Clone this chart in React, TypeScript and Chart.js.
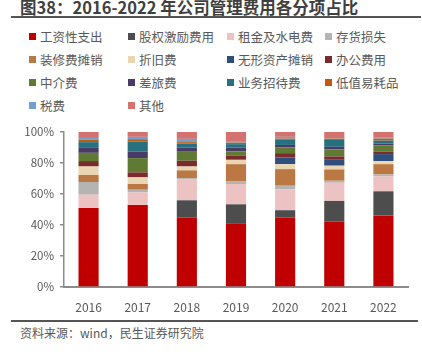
import React, { useEffect, useRef } from "react";
import { Chart, registerables } from "chart.js";

Chart.register(...registerables);

const years = ["2016", "2017", "2018", "2019", "2020", "2021", "2022"];
const yTicks = [0, 20, 40, 60, 80, 100];

const seriesNames = [
  "工资性支出", "股权激励费用", "租金及水电费", "存货损失",
  "装修费摊销", "折旧费", "无形资产摊销", "办公费用",
  "中介费", "差旅费", "业务招待费", "低值易耗品",
  "税费", "其他",
];

const salary = [51.0, 52.9, 44.8, 41.1, 44.8, 42.2, 46.0];
const equityIncentive = [0, 0, 11.1, 12.2, 4.7, 13.3, 15.7];
const rentUtilities = [8.5, 8.1, 13.7, 13.1, 13.5, 11.7, 9.6];
const inventoryLoss = [8.2, 1.7, 0.6, 1.9, 2.3, 1.3, 1.3];
const decoration = [4.5, 3.7, 5.0, 10.9, 10.7, 7.3, 6.6];
const depreciation = [5.5, 4.3, 2.5, 2.8, 3.2, 2.4, 2.0];
const intangible = [0, 0, 0, 0, 4.3, 4.2, 4.5];
const office = [3.5, 3.2, 3.7, 2.8, 2.8, 1.8, 1.5];
const agency = [5.3, 9.2, 5.8, 2.6, 3.8, 4.5, 4.2];
const travel = [3.2, 4.3, 2.7, 2.5, 1.5, 1.7, 1.1];
const entertainment = [3.7, 6.4, 2.6, 2.2, 3.3, 4.9, 1.9];
const consumables = [1.7, 1.5, 0.9, 1.0, 0.8, 0.4, 1.3];
const taxes = [1.0, 1.5, 2.1, 0.5, 1.1, 0.2, 0.5];
const others = [3.9, 3.2, 4.5, 6.4, 3.2, 4.1, 3.8];

const seriesData = [
  salary, equityIncentive, rentUtilities, inventoryLoss,
  decoration, depreciation, intangible, office,
  agency, travel, entertainment, consumables,
  taxes, others,
];

const colors = [
  "#C00000", "#4D4D4D", "#EDC2C3", "#B4B4B4",
  "#BC7843", "#EBD6B4", "#2E4F7C", "#7B2B2C",
  "#5F7B33", "#4A3A66", "#27707F", "#C25A0C",
  "#70A0D0", "#D3726F",
];

const FONT = "'Noto Sans CJK SC', 'Noto Sans', sans-serif";

export default function App() {
  const ref = useRef<HTMLCanvasElement | null>(null);

  useEffect(() => {
    if (!ref.current) return;
    const chart = new Chart(ref.current, {
      type: "bar",
      data: {
        labels: years,
        datasets: seriesNames.map((name, i) => ({
          label: name,
          data: seriesData[i],
          backgroundColor: colors[i],
          borderWidth: 0,
          barPercentage: 0.82,
          categoryPercentage: 0.5,
        })),
      },
      options: {
        animation: false,
        responsive: false,
        maintainAspectRatio: false,
        layout: { padding: { top: 6, right: 14, left: 0, bottom: 0 } },
        plugins: {
          legend: { display: false },
          tooltip: { enabled: false },
          title: { display: false },
        },
        scales: {
          x: {
            stacked: true,
            grid: { display: false },
            border: { display: true, color: "#8C8C8C", width: 2 },
            ticks: {
              color: "#595959",
              font: { family: FONT, size: 12 },
              padding: 5,
              maxRotation: 0,
            },
            afterFit: (s: any) => {
              s.height = 33;
            },
          },
          y: {
            stacked: true,
            min: 0,
            max: 100,
            afterBuildTicks: (s: any) => {
              s.ticks = yTicks.map((v) => ({ value: v }));
            },
            grid: {
              drawOnChartArea: false,
              drawTicks: true,
              tickLength: 4,
              color: "#8C8C8C",
              lineWidth: 1.5,
            },
            border: { display: true, color: "#8C8C8C", width: 1.5 },
            ticks: {
              color: "#595959",
              font: { family: FONT, size: 11.5 },
              padding: 6,
              callback: (v: any) => v + "%",
            },
            afterFit: (s: any) => {
              s.width = 64;
            },
          },
        },
      },
    });
    return () => chart.destroy();
  }, []);

  const legendCols = [29, 128, 227, 325];
  const legendRows = [36, 59, 82, 105];

  return (
    <div
      style={{
        position: "fixed",
        left: 0,
        top: 0,
        width: 422,
        height: 356,
        background: "#fff",
        fontFamily: FONT,
        overflow: "hidden",
      }}
    >
      <div
        style={{
          position: "absolute",
          left: 20,
          top: -3,
          fontSize: 16.5,
          fontWeight: "bold",
          color: "#3F3F3F",
          whiteSpace: "nowrap",
          lineHeight: "20px",
        }}
      >
        图38：2016-2022 年公司管理费用各分项占比
      </div>
      <div
        style={{
          position: "absolute",
          left: 11,
          top: 16,
          width: 410,
          height: 1.5,
          background: "#555",
        }}
      />
      {seriesNames.map((name, i) => {
        const col = i % 4;
        const row = Math.floor(i / 4);
        return (
          <div
            key={name}
            style={{
              position: "absolute",
              left: legendCols[col],
              top: legendRows[row] - 9,
              height: 18,
              display: "flex",
              alignItems: "center",
              whiteSpace: "nowrap",
              fontSize: 12.5,
              color: "#595959",
            }}
          >
            <span
              style={{
                display: "inline-block",
                width: 7,
                height: 7,
                background: colors[i],
                marginRight: 4,
              }}
            />
            {name}
          </div>
        );
      })}
      <canvas
        ref={ref}
        width={422}
        height={201}
        style={{ position: "absolute", left: 0, top: 119, width: 422, height: 201 }}
      />
      <div
        style={{
          position: "absolute",
          left: 11,
          top: 320,
          width: 407,
          height: 1.5,
          background: "#555",
        }}
      />
      <div
        style={{
          position: "absolute",
          left: 20,
          top: 324,
          fontSize: 12,
          color: "#595959",
          whiteSpace: "nowrap",
          lineHeight: "18px",
        }}
      >
        资料来源：wind，民生证券研究院
      </div>
    </div>
  );
}
